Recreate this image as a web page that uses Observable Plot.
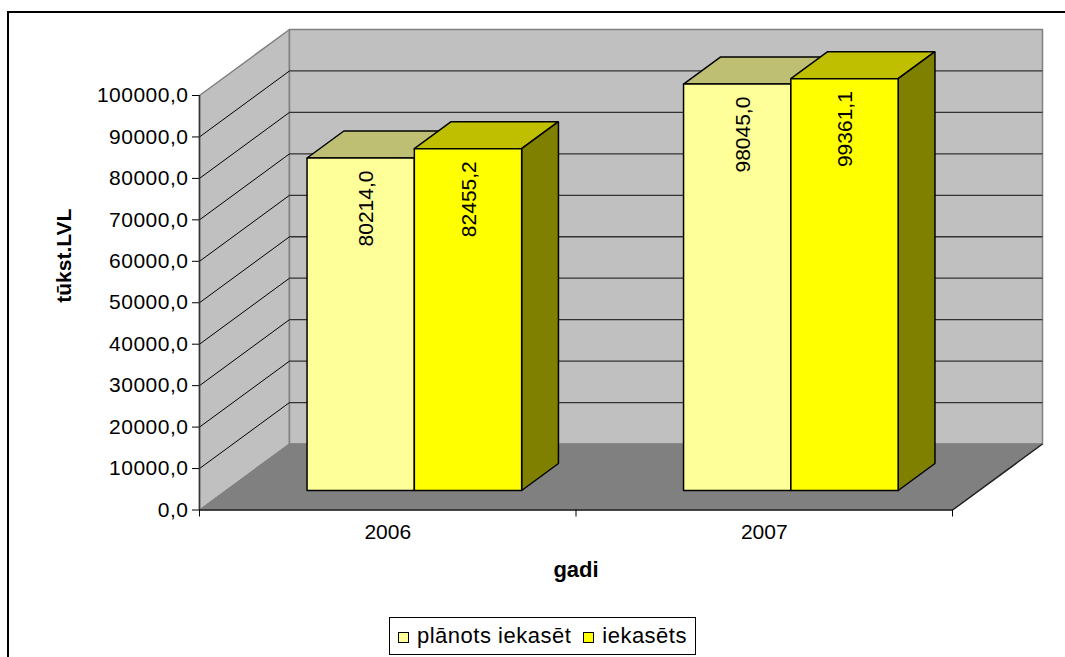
<!DOCTYPE html>
<html>
<head>
<meta charset="utf-8">
<script src="https://cdn.jsdelivr.net/npm/d3@7"></script>
<script src="https://cdn.jsdelivr.net/npm/@observablehq/plot@0.6"></script>
<style>
  html, body { margin: 0; padding: 0; background: #fff; overflow: hidden; }
  body { width: 1065px; height: 657px; position: relative; font-family: "Liberation Sans", Arial, sans-serif; }
  #frame { position: absolute; left: 7px; top: 11px; width: 1100px; height: 700px; border: 2px solid #000; box-sizing: border-box; }
  #chart { position: absolute; left: 0; top: 0; }
  #chart svg g[aria-label="y-axis tick label"] text { letter-spacing: 0.5px; }
  #legend { margin: 17px 0 0 389px; width: 307px; height: 38px; border: 1px solid #000; box-sizing: border-box;
            display: flex; align-items: center; font-size: 22px; letter-spacing: 0.5px; color: #000; background: #fff; }
  #legend .item { display: flex; align-items: center; }
  #legend .sw { width: 9px; height: 9px; border: 1px solid #000; margin: 2px 8px 0 8px; }
</style>
</head>
<body>
<div id="frame"></div>
<div id="chart"></div>
<script>
// Revenue per year, thousand LVL
const years = ["2006", "2007"];
const planned = [80214.0, 98045.0];     // plānots iekasēt
const collected = [82455.2, 99361.1];   // iekasēts
const seriesNames = ["plānots iekasēt", "iekasēts"];
const yTicks = [0, 10000, 20000, 30000, 40000, 50000, 60000, 70000, 80000, 90000, 100000];
const yMax = 100000;

// Oblique 3D projection: full depth shifts by DEPTH_X category units right and DEPTH_Y value units up
const DEPTH_X = 0.239;
const DEPTH_Y = 15923;
const BAR_Z0 = 0.2955, BAR_Z1 = 0.7045;   // bar front and back, as depth fractions
const GAP = 0.215;                        // empty space on each side of a category
const BAR_W = (1 - 2 * GAP) / 2;

const P = (c, v, z) => ({x: c + z * DEPTH_X, y: v + z * DEPTH_Y});

const seriesStyle = [
  {front: "#FFFF99", top: "#BFBF73", side: "#80804D", dx: 6},
  {front: "#FFFF00", top: "#BFBF00", side: "#808000", dx: 1}
];

// polygon vertices, closed
function poly(id, fill, pts) {
  return [...pts, pts[0]].map(p => ({id, fill, ...p}));
}

const walls = [
  ...poly("left", "#C0C0C0", [P(0, 0, 0), P(0, 0, 1), P(0, yMax, 1), P(0, yMax, 0)]),
  ...poly("back", "#C0C0C0", [P(0, 0, 1), P(2, 0, 1), P(2, yMax, 1), P(0, yMax, 1)])
];
const floor = poly("floor", "#808080", [P(0, 0, 0), P(2, 0, 0), P(2, 0, 1), P(0, 0, 1)]);

const gridVals = yTicks.filter(v => v > 0 && v < yMax);
const backGrid = gridVals.map(v => ({a: P(0, v, 1), b: P(2, v, 1)}));
const sideGrid = gridVals.map(v => ({a: P(0, v, 0), b: P(0, v, 1)}));

const bars = [];
const labels = [[], []];
years.forEach((yr, i) => {
  [planned[i], collected[i]].forEach((v, s) => {
    const st = seriesStyle[s];
    const c0 = i + GAP + s * BAR_W, c1 = c0 + BAR_W;
    const id = yr + "-" + s;
    bars.push(...poly(id + "-top", st.top, [P(c0, v, BAR_Z0), P(c1, v, BAR_Z0), P(c1, v, BAR_Z1), P(c0, v, BAR_Z1)]));
    bars.push(...poly(id + "-side", st.side, [P(c1, 0, BAR_Z0), P(c1, 0, BAR_Z1), P(c1, v, BAR_Z1), P(c1, v, BAR_Z0)]));
    bars.push(...poly(id + "-front", st.front, [P(c0, 0, BAR_Z0), P(c1, 0, BAR_Z0), P(c1, v, BAR_Z0), P(c0, v, BAR_Z0)]));
    const top = P((c0 + c1) / 2, v, BAR_Z0);
    labels[s].push({x: top.x, y: top.y, text: v.toFixed(1).replace(".", ",")});
  });
});

const fmt = d => d.toFixed(1).replace(".", ",");

const chart = Plot.plot({
  width: 1065,
  height: 600,
  marginLeft: 199,
  marginRight: 23,
  marginTop: 29,
  marginBottom: 90.5,
  x: {type: "linear", domain: [0, 2 + DEPTH_X]},
  y: {type: "linear", domain: [0, yMax + DEPTH_Y]},
  style: {fontFamily: "'Liberation Sans', Arial, sans-serif", fontSize: "21px", color: "#000", background: "transparent", overflow: "visible"},
  marks: [
    Plot.line(walls, {x: "x", y: "y", z: "id", fill: "fill", stroke: "#808080", strokeWidth: 1.5}),
    Plot.link(backGrid, {x1: d => d.a.x, y1: d => d.a.y, x2: d => d.b.x, y2: d => d.b.y, stroke: "#333", strokeWidth: 1.3}),
    Plot.link(sideGrid, {x1: d => d.a.x, y1: d => d.a.y, x2: d => d.b.x, y2: d => d.b.y, stroke: "#000", strokeWidth: 1}),
    Plot.line(floor, {x: "x", y: "y", z: "id", fill: "fill", stroke: "#808080", strokeWidth: 1}),
    Plot.link([{a: P(0, 0, 0), b: P(2, 0, 0)}, {a: P(2, 0, 0), b: P(2, 0, 1)}],
      {x1: d => d.a.x, y1: d => d.a.y, x2: d => d.b.x, y2: d => d.b.y, stroke: "#222", strokeWidth: 1.5}),
    Plot.ruleX([0], {y1: 0, y2: yMax, stroke: "#333", strokeWidth: 1.5}),
    Plot.line(bars, {x: "x", y: "y", z: "id", fill: "fill", stroke: "#000", strokeWidth: 1.5, strokeLinejoin: "miter"}),
    ...labels.map((L, s) => Plot.text(L, {x: "x", y: "y", text: "text", rotate: -90, textAnchor: "end", dx: seriesStyle[s].dx, dy: 12.5, fontSize: 21, fill: "#000"})),
    Plot.axisY({ticks: yTicks, tickFormat: fmt, tickSize: 7, tickPadding: 4, label: null, fontSize: 21}),
    Plot.axisX({ticks: [0, 1, 2], tickFormat: () => "", tickSize: 7, label: null}),
    Plot.axisX({ticks: [0.5, 1.5], tickFormat: d => years[Math.floor(d)], tickSize: 0, tickPadding: 14, label: null, fontSize: 21}),
    Plot.text(["tūkst.LVL"], {y: () => yMax / 2, frameAnchor: "left", dx: -135, rotate: -90, fontWeight: "bold", fontSize: 21}),
    Plot.text(["gadi"], {x: () => 1, frameAnchor: "bottom", dy: 67, fontWeight: "bold", fontSize: 22})
  ]
});

const root = document.getElementById("chart");
root.appendChild(chart);

const legend = document.createElement("div");
legend.id = "legend";
seriesNames.forEach((name, s) => {
  const item = document.createElement("div");
  item.className = "item";
  const sw = document.createElement("span");
  sw.className = "sw";
  sw.style.background = seriesStyle[s].front;
  if (s === 1) sw.style.marginLeft = "12px";
  const t = document.createElement("span");
  t.textContent = name;
  item.append(sw, t);
  legend.appendChild(item);
});
root.appendChild(legend);
</script>
</body>
</html>
